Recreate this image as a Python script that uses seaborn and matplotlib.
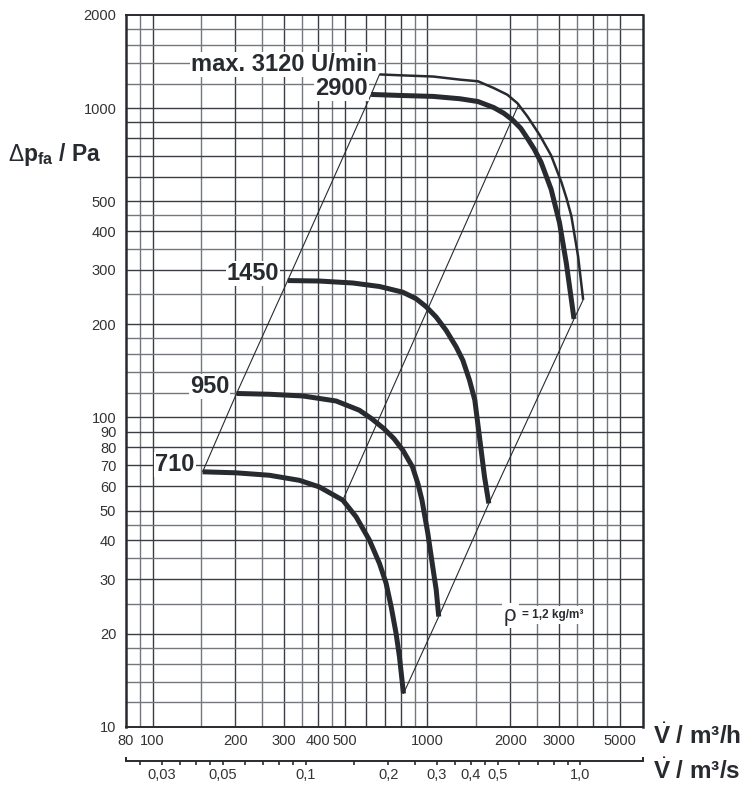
import numpy as np
import pandas as pd
import matplotlib
matplotlib.use("Agg")
import matplotlib.pyplot as plt
import seaborn as sns
from matplotlib.ticker import FixedLocator, FixedFormatter, NullFormatter

# ---------------- data ----------------
v_3120 = [669, 791, 1049, 1314, 1527, 1743, 1952, 2125, 2312, 2561, 2818, 3074, 3208, 3338, 3532, 3686]
p_3120 = [1285, 1277, 1265, 1236, 1221, 1161, 1105, 1037, 939, 818, 703, 575, 510, 448, 332, 240]

v_2900 = [624, 791, 1049, 1314, 1527, 1743, 1897, 2042, 2186, 2312, 2448, 2589, 2817, 3023, 3201, 3414]
p_2900 = [1107, 1099, 1091, 1072, 1050, 1004, 962, 915, 860, 798, 736, 669, 547, 426, 315, 208]

v_1450 = [310, 404, 535, 669, 813, 909, 989, 1076, 1170, 1272, 1345, 1422, 1487, 1546, 1613, 1672]
p_1450 = [277, 276, 272, 265, 254, 242, 228, 211, 191, 169, 153, 132, 113.7, 86.5, 64.2, 52.7]

v_950 = [202, 266, 352, 465, 565, 625, 694, 755, 814, 882, 923, 955, 1003, 1045, 1076, 1099]
p_950 = [119.5, 118.8, 117.3, 113, 105.5, 99.2, 92, 85.4, 78.3, 69.2, 61.1, 54, 42.2, 32.9, 27.7, 22.7]

v_710 = [152, 201, 266, 342, 404, 492, 550, 615, 669, 707, 738, 769, 791, 818]
p_710 = [66.7, 66.2, 65, 62.6, 59.6, 54, 47.7, 40.1, 33.7, 29.1, 24.4, 20.0, 16.8, 12.8]

# middle system line (through the knees of the curves)
v_mid = [492, 2150]
p_mid = [54, 1030]

speed_labels = ["max. 3120 U/min", "2900", "1450", "950", "710"]

x_major = [80, 100, 200, 300, 400, 500, 1000, 2000, 3000, 5000]
x_major_labels = ["80", "100", "200", "300", "400", "500", "1000", "2000", "3000", "5000"]
x_minor = [600, 700, 800, 900, 4000]
y_major = [10, 20, 30, 40, 50, 60, 70, 80, 90, 100, 200, 300, 400, 500, 1000, 2000]

x_grid = [90, 100, 150, 200, 250, 300, 350, 400, 450, 500, 600, 700, 800, 900,
          1000, 1500, 2000, 2500, 3000, 3500, 4000, 4500, 5000]
y_grid = [12, 14, 16, 18, 20, 25, 30, 35, 40, 45, 50, 60, 70, 80, 90, 100, 120, 140,
          160, 180, 200, 250, 300, 350, 400, 450, 500, 600, 700, 800, 900, 1000,
          1200, 1400, 1600, 1800]

s_major = [0.03, 0.05, 0.1, 0.2, 0.3, 0.4, 0.5, 1.0]
s_major_labels = ["0,03", "0,05", "0,1", "0,2", "0,3", "0,4", "0,5", "1,0"]
s_minor = [0.025, 0.035, 0.04, 0.045, 0.06, 0.07, 0.08, 0.09, 0.15, 0.25, 0.35,
           0.45, 0.6, 0.7, 0.8, 0.9]

# ---------------- style ----------------
sns.set_style("white")
plt.rcParams["font.family"] = ["Liberation Sans", "DejaVu Sans"]
plt.rcParams["mathtext.fontset"] = "custom"
plt.rcParams["mathtext.rm"] = "Liberation Sans"
plt.rcParams["mathtext.bf"] = "Liberation Sans:bold"
plt.rcParams["mathtext.it"] = "Liberation Sans:italic"

INK = "#272b30"
DARK = "#3a3e43"
GRAY = "#74787d"

fig = plt.figure(figsize=(7.45, 7.87), dpi=100)
ax = fig.add_axes([126 / 745, 1 - 726.7 / 787, (643.3 - 126) / 745, (726.7 - 15) / 787])
ax.set_xscale("log")
ax.set_yscale("log")
ax.set_xlim(80, 6100)
ax.set_ylim(10, 2000)

# grid
for gx in x_grid:
    half = str(gx).startswith(("15", "25", "35", "45", "9"))
    ax.axvline(gx, color=GRAY if half else DARK, lw=1.0, zorder=0)
for gy in y_grid:
    half = str(gy).startswith(("25", "35", "45", "12", "14", "16", "18"))
    ax.axhline(gy, color=GRAY if half else DARK, lw=1.0, zorder=0)

# fan curves
curves = [(v_3120, p_3120, 1.8), (v_2900, p_2900, 3.6), (v_1450, p_1450, 3.6),
          (v_950, p_950, 3.6), (v_710, p_710, 3.6)]
for v, p, lw in curves:
    df = pd.DataFrame({"V": v, "p": p})
    sns.lineplot(data=df, x="V", y="p", ax=ax, sort=False, estimator=None,
                 color=INK, lw=lw, solid_capstyle="butt", solid_joinstyle="round", zorder=3)

# system lines through the start points and end points of the curves
starts_v = [c[0][0] for c in curves][::-1]
starts_p = [c[1][0] for c in curves][::-1]
ends_v = [c[0][-1] for c in curves][::-1]
ends_p = [c[1][-1] for c in curves][::-1]
for vv, pp in [(starts_v, starts_p), (ends_v, ends_p), (v_mid, p_mid)]:
    sns.lineplot(x=vv, y=pp, ax=ax, sort=False, estimator=None, color=INK, lw=0.8, zorder=2)

# speed labels
label_pos = [(655, 1385), (607, 1158), (289, 292), (190, 126), (142, 70.5)]
for txt, (lx, ly) in zip(speed_labels, label_pos):
    ax.text(lx, ly, txt, ha="right", va="center", fontsize=17, fontweight="bold",
            color=INK, zorder=4,
            bbox=dict(boxstyle="square,pad=0.05", fc="white", ec="none"))

# density note
ax.text(1900, 22.9, "ρ", ha="left", va="center", fontsize=16, color=INK, zorder=4,
        bbox=dict(boxstyle="square,pad=0.1", fc="white", ec="none"))
ax.text(2200, 22.9, "= 1,2 kg/m³", ha="left", va="center", fontsize=8.5,
        fontweight="bold", color=INK, zorder=4,
        bbox=dict(boxstyle="square,pad=0.25", fc="white", ec="none"))

# ticks main axes
ax.xaxis.set_major_locator(FixedLocator(x_major))
ax.xaxis.set_major_formatter(FixedFormatter(x_major_labels))
ax.xaxis.set_minor_locator(FixedLocator(x_minor))
ax.xaxis.set_minor_formatter(NullFormatter())
ax.yaxis.set_major_locator(FixedLocator(y_major))
ax.yaxis.set_major_formatter(FixedFormatter([str(v) for v in y_major]))
ax.yaxis.set_minor_locator(FixedLocator([]))
ax.tick_params(axis="both", which="both", direction="out", colors=INK,
               labelcolor="#333333", labelsize=10.5, width=1.2)
ax.tick_params(axis="x", which="major", length=4, pad=1)
ax.tick_params(axis="x", which="minor", length=4)
ax.tick_params(axis="y", which="major", length=5, pad=2)
ax.set_xlabel("")
ax.set_ylabel("")
for side, sp in ax.spines.items():
    sp.set_visible(True)
    sp.set_color(INK)
    sp.set_linewidth(1.4)
ax.spines["left"].set_linewidth(1.8)
ax.spines["right"].set_linewidth(1.8)

# secondary axis in m3/s
SEC_Y = -0.048
sec = ax.secondary_xaxis(SEC_Y, functions=(lambda v: v / 3600.0, lambda s: s * 3600.0))
sec.xaxis.set_major_locator(FixedLocator(s_major))
sec.xaxis.set_major_formatter(FixedFormatter(s_major_labels))
sec.xaxis.set_minor_locator(FixedLocator(s_minor))
sec.xaxis.set_minor_formatter(NullFormatter())
sec.tick_params(axis="x", which="both", direction="out", length=3, width=1.2,
                colors=INK, labelcolor="#333333", labelsize=10.5, pad=2)
sec.spines["bottom"].set_color(INK)
sec.spines["bottom"].set_linewidth(1.4)
for xe in (0.0, 1.0):
    ax.plot([xe, xe], [SEC_Y, SEC_Y + 0.006], transform=ax.transAxes, color=INK,
            lw=1.4, clip_on=False, solid_capstyle="butt")

# axis titles
fig.text(8 / 745, 1 - 155 / 787, r"$\Delta\mathbf{p}_{\mathbf{fa}}$ / Pa", ha="left",
         va="center", fontsize=16.5, fontweight="bold", color=INK)
fig.text(653 / 745, 1 - 736 / 787, r"$\dot{\mathbf{V}}$ / m³/h", ha="left",
         va="center", fontsize=17.5, fontweight="bold", color=INK)
fig.text(653 / 745, 1 - 771 / 787, r"$\dot{\mathbf{V}}$ / m³/s", ha="left",
         va="center", fontsize=17.5, fontweight="bold", color=INK)

fig.savefig("out.png", dpi=100, facecolor="white")
